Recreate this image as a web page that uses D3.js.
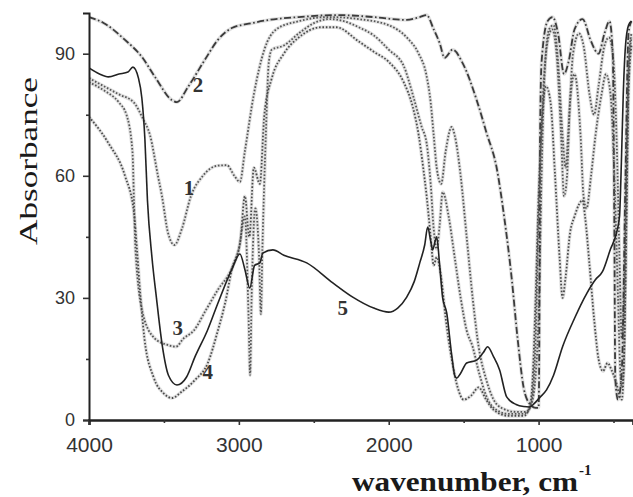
<!DOCTYPE html>
<html>
<head>
<meta charset="utf-8">
<script src="https://cdn.jsdelivr.net/npm/d3@7"></script>
<style>
  html, body { margin: 0; padding: 0; background: #fff; }
  svg { display: block; }
</style>
</head>
<body>
<div id="chart"></div>
<script>
// IR spectra, values: [wavenumber, absorbance]
var curve1 = [[4000,84],[3900,82],[3800,80],[3700,78],[3640,74],[3593,70],[3540,60],[3513,55],[3473,46],[3430,43],[3380,47],[3320,55],
  [3240,60],[3140,62.5],[3080,62.6],[3030,60],[2993,58.5],[2960,66],[2900,80],[2830,91],[2750,96],[2600,98],[2400,99],[2200,98.5],
  [2000,97],[1880,94],[1800,90],[1750,85],[1720,78],[1700,70],[1680,62],[1650,58],[1620,66],[1580,72],[1560,70],[1520,60],[1480,45],
  [1440,30],[1400,18],[1350,10],[1300,5],[1250,3],[1150,2],[1080,2],[1040,5],[1000,25],[980,60],[960,85],[930,96],[900,97],[870,88],
  [840,70],[820,62],[800,72],[770,90],[730,95],[700,92],[660,80],[630,75],[600,82],[560,92],[530,94],[500,88],[480,70],[460,40],
  [445,20],[430,30],[410,70],[395,90],[380,95]];
var curve2 = [[4000,99],[3900,97.5],[3760,93.4],[3647,89.2],[3560,84.3],[3447,78.6],[3413,78.1],[3340,81.8],[3227,88.5],[3140,93.4],
  [3047,96.3],[2913,97.5],[2800,98.3],[2600,99],[2347,99.5],[2100,99],[1880,98.3],[1793,99],[1747,99.5],[1700,96],[1660,92.6],
  [1627,89],[1573,91],[1507,87.7],[1413,78.6],[1347,70.5],[1280,62],[1230,50],[1180,35],[1140,20],[1100,8],[1060,4],[1020,3],
  [1000,3],[995,20],[990,70],[980,88],[940,98],[907,99],[870,95],[830,85],[800,88],[760,96],[707,98.5],[650,93],[600,90],[560,95],
  [527,98],[505,90],[495,50],[488,10],[470,5],[445,12],[420,60],[400,95],[380,98]];
var curve3 = [[4000,83],[3900,81],[3800,78],[3750,75],[3710,66],[3700,54],[3690,42],[3640,26],[3560,20],[3480,18.5],[3420,18],[3370,20],
  [3300,22],[3220,27],[3140,32],[3050,37],[3000,42],[2960,50],[2935,25],[2925,11],[2915,30],[2890,52],[2865,40],[2853,26],[2843,42],
  [2820,70],[2800,88],[2780,91],[2700,92],[2600,95],[2500,97.5],[2400,98.5],[2300,98],[2200,96.5],[2100,94.5],[2000,91],[1900,87],
  [1840,80],[1780,72],[1747,68],[1720,58],[1700,47],[1680,42],[1660,48],[1640,56],[1600,50],[1560,40],[1520,30],[1480,22],[1440,18],
  [1400,12],[1350,6],[1300,3],[1200,1.5],[1100,1.5],[1050,4],[1020,20],[1000,50],[970,80],[940,93],[910,96],[880,90],[850,70],
  [830,55],[810,60],[790,78],[760,85],[720,70],[700,55],[680,52],[650,60],[620,70],[580,80],[550,85],[520,80],[490,55],[470,30],
  [455,12],[445,8],[430,15],[415,50],[400,85],[380,94]];
var curve4 = [[4000,74.5],[3870,68],[3760,60],[3700,51],[3680,42],[3660,32],[3630,20],[3570,10.6],[3500,6.5],[3447,5.4],[3380,7],
  [3293,9.8],[3207,14],[3140,22],[3090,29],[3047,37],[2990,44],[2960,55],[2930,45],[2900,62],[2860,58],[2830,75],[2780,84],
  [2700,90],[2600,94],[2450,96.5],[2350,96.5],[2200,93],[2100,90.5],[2000,88],[1900,83],[1840,77],[1800,70],[1770,62],[1747,55],
  [1720,45],[1700,38],[1680,40],[1650,35],[1620,25],[1580,15],[1540,8],[1500,5],[1450,6],[1400,8],[1350,5],[1300,2.5],[1200,1],
  [1100,1],[1060,3],[1040,10],[1020,30],[1000,55],[975,75],[950,82],[920,78],[890,60],[860,40],[840,30],[820,35],[790,46],[760,50],
  [730,53],[707,54],[690,50],[660,38],[630,25],[600,15],[570,12],[540,14],[510,12],[480,9],[460,6],[445,5],[430,15],[415,45],
  [400,80],[380,92]];
var curve5 = [[4000,86.5],[3930,85],[3870,84.3],[3800,85],[3740,85.5],[3707,86.7],[3670,84],[3647,79],[3627,69],[3610,54],[3580,40],
  [3550,30],[3510,18],[3470,11],[3413,8.6],[3350,10.5],[3293,15.5],[3210,22],[3140,28.7],[3047,37],[2993,40.8],[2960,37],
  [2927,32.4],[2895,38],[2860,38.6],[2840,41],[2773,41.8],[2700,40.5],[2547,38.6],[2373,33.7],[2240,30.2],[2100,27.5],[2000,26.5],
  [1940,27.5],[1880,30.2],[1830,34],[1793,38.6],[1760,43],[1740,47.4],[1720,44],[1707,41.8],[1690,44],[1680,45],[1660,38],
  [1640,30],[1613,26.3],[1580,16],[1560,11],[1547,10.3],[1520,11.5],[1480,14],[1413,14.7],[1370,16.5],[1340,18],[1300,15.5],
  [1260,12.3],[1213,5.7],[1150,3.8],[1100,3.3],[1060,3.2],[1030,4],[993,5.5],[947,7.4],[900,11],[840,18],[760,25],[680,31],
  [620,34.5],[573,36.5],[520,42],[480,46],[460,50],[447,64],[435,80],[420,92],[400,97],[380,98]];

var curveNames = ["1", "2", "3", "4", "5"];
var labelPos = [[3333,57],[3273,82.3],[3407,22.6],[3207,11.8],[2307,27.5]];
var xTicks = [4000, 3000, 2000, 1000];
var xMinor = [3500, 2500, 1500, 500];
var yTicks = [0, 30, 60, 90];
var yMinor = [15, 45, 75];

var W = 633, H = 497;
var margin = {top: 13, right: 0, bottom: 77, left: 89};

var svg = d3.select("#chart").append("svg")
  .attr("width", W)
  .attr("height", H);

var x = d3.scaleLinear().domain([4000, 370]).range([margin.left, W - margin.right]);
var y = d3.scaleLinear().domain([0, 100]).range([H - margin.bottom, margin.top]);

// slight blur gives the scanned look
var defs = svg.append("defs");
defs.append("filter").attr("id", "scan")
  .append("feGaussianBlur").attr("stdDeviation", 0.45);

var line = d3.line()
  .x(function(d) { return x(d[0]); })
  .y(function(d) { return y(d[1]); })
  .curve(d3.curveMonotoneX);

var series = [
  {data: curve1, dash: "1.6,1.8", color: "#555", w: 1.8},
  {data: curve2, dash: "7,2.5,1.6,2.5", color: "#3a3a3a", w: 1.8},
  {data: curve3, dash: "1.6,1.8", color: "#555", w: 1.8},
  {data: curve4, dash: "1.6,1.8", color: "#4a4a4a", w: 1.8},
  {data: curve5, dash: null, color: "#222", w: 1.6}
];

svg.append("clipPath").attr("id", "clip")
  .append("rect")
  .attr("x", margin.left).attr("y", 0)
  .attr("width", W - margin.left).attr("height", y(0) + 2);

var plot = svg.append("g").attr("clip-path", "url(#clip)");

// grey halo under the dotted traces
plot.selectAll(".halo")
  .data(series.filter(function(s) { return s.dash; }))
  .enter().append("path")
  .attr("class", "halo")
  .attr("d", function(s) { return line(s.data); })
  .attr("fill", "none")
  .attr("stroke", "#bbb")
  .attr("stroke-width", 3.5)
  .attr("stroke-opacity", 0.45);

plot.selectAll(".trace")
  .data(series)
  .enter().append("path")
  .attr("class", "trace")
  .attr("d", function(s) { return line(s.data); })
  .attr("fill", "none")
  .attr("stroke", function(s) { return s.color; })
  .attr("stroke-width", function(s) { return s.w; })
  .attr("stroke-dasharray", function(s) { return s.dash; })
  .attr("filter", "url(#scan)");

// curve numbers
svg.selectAll(".num")
  .data(labelPos)
  .enter().append("text")
  .attr("class", "num")
  .attr("x", function(d) { return x(d[0]); })
  .attr("y", function(d) { return y(d[1]); })
  .attr("dy", "0.35em")
  .attr("text-anchor", "middle")
  .style("font-family", "'Liberation Serif', 'Times New Roman', serif")
  .style("font-size", "21px")
  .style("font-weight", "bold")
  .style("fill", "#333")
  .text(function(d, i) { return curveNames[i]; });

// axes
var xAxis = svg.append("g")
  .attr("transform", "translate(0," + y(0) + ")")
  .call(d3.axisBottom(x).tickValues(xTicks).tickSize(5).tickPadding(12).tickFormat(d3.format("d")));
svg.append("g")
  .attr("transform", "translate(0," + y(0) + ")")
  .call(d3.axisBottom(x).tickValues(xMinor).tickSize(3).tickFormat(""))
  .select(".domain").remove();

var yAxis = svg.append("g")
  .attr("transform", "translate(" + margin.left + ",0)")
  .call(d3.axisLeft(y).tickValues(yTicks).tickSize(6).tickPadding(8));
svg.append("g")
  .attr("transform", "translate(" + margin.left + ",0)")
  .call(d3.axisLeft(y).tickValues(yMinor).tickSize(3).tickFormat(""))
  .select(".domain").remove();

xAxis.select(".domain").attr("stroke", "#222").attr("stroke-width", 2.6);
yAxis.select(".domain").attr("stroke", "#222").attr("stroke-width", 2);
svg.selectAll(".tick line").attr("stroke", "#333").attr("stroke-width", 1.6);
xAxis.selectAll("text")
  .style("font-family", "'Liberation Sans', Arial, sans-serif")
  .style("font-size", "21px")
  .style("fill", "#333");
yAxis.selectAll("text")
  .style("font-family", "'Liberation Sans', Arial, sans-serif")
  .style("font-size", "18px")
  .style("fill", "#333");

// axis titles
svg.append("text")
  .attr("transform", "translate(37," + 161 + ") rotate(-90)")
  .attr("text-anchor", "middle")
  .attr("textLength", 168)
  .attr("lengthAdjust", "spacingAndGlyphs")
  .style("font-family", "'Liberation Serif', 'Times New Roman', serif")
  .style("font-size", "26px")
  .style("fill", "#1a1a1a")
  .text("Absorbance");

svg.append("text")
  .attr("x", 352)
  .attr("y", 491)
  .attr("textLength", 226)
  .attr("lengthAdjust", "spacingAndGlyphs")
  .style("font-family", "'Liberation Serif', 'Times New Roman', serif")
  .style("font-size", "27px")
  .style("font-weight", "bold")
  .style("fill", "#1a1a1a")
  .text("wavenumber, cm");
svg.append("text")
  .attr("x", 579)
  .attr("y", 475)
  .style("font-family", "'Liberation Serif', 'Times New Roman', serif")
  .style("font-size", "15px")
  .style("font-weight", "bold")
  .style("fill", "#1a1a1a")
  .text("-1");
</script>
</body>
</html>
